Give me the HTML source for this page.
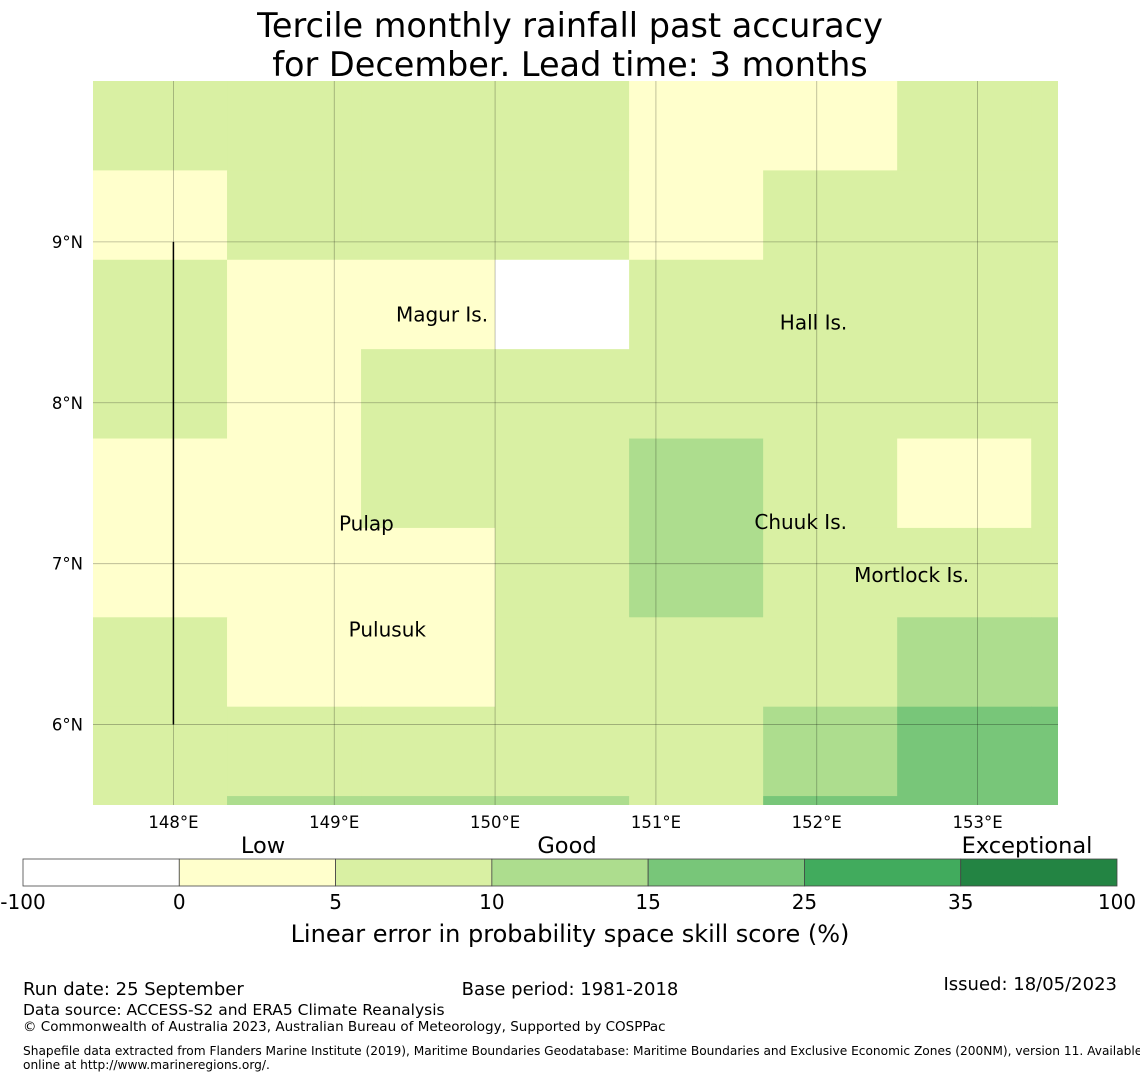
<!DOCTYPE html>
<html><head><meta charset="utf-8">
<style>
body{margin:0;background:#fff;font-family:"Liberation Sans",sans-serif;}
svg text{font-family:"DejaVu Sans","Liberation Sans",sans-serif;}
</style></head>
<body>
<svg id="chart" width="1140" height="1080" viewBox="0 0 1140 1080" xmlns="http://www.w3.org/2000/svg">
<g>
<text x="570" y="37" font-size="33.5" text-anchor="middle">Tercile monthly rainfall past accuracy</text>
<text x="570" y="76" font-size="33.5" text-anchor="middle">for December. Lead time: 3 months</text>
</g>
<g id="map"></g>
<g id="cbar"></g>
<text x="570" y="942" font-size="24" text-anchor="middle">Linear error in probability space skill score (%)</text>
<g font-size="18">
<text x="23" y="995">Run date: 25 September</text>
<text x="570" y="995" text-anchor="middle">Base period: 1981-2018</text>
<text x="1117" y="990" text-anchor="end">Issued: 18/05/2023</text>
<text x="23" y="1015" font-size="15.5">Data source: ACCESS-S2 and ERA5 Climate Reanalysis</text>
<text x="23" y="1031" font-size="13.5">© Commonwealth of Australia 2023, Australian Bureau of Meteorology, Supported by COSPPac</text>
<text x="23" y="1055" font-size="12.2">Shapefile data extracted from Flanders Marine Institute (2019), Maritime Boundaries Geodatabase: Maritime Boundaries and Exclusive Economic Zones (200NM), version 11. Available</text>
<text x="23" y="1069" font-size="12.2">online at http://www.marineregions.org/.</text>
</g>
</svg>
<script>
// Skill score grid (rows top->bottom from 10N, cols left->right from 147.5E)
const row0=[7,7,7,7,3,3,7,7];
const row1=[3,7,7,7,3,7,7,7];
const row2=[7,3,3,-5,7,7,7,7];
const row3=[7,3,7,7,7,7,7,7];
const row4=[3,3,7,7,12,7,3,7];
const row5=[3,3,3,7,12,7,7,7];
const row6=[7,3,3,7,7,7,12,12];
const row7=[7,7,7,7,7,12,20,20];
const row8=[7,12,12,12,7,20,20,20];
const gridRows=[row0,row1,row2,row3,row4,row5,row6,row7,row8];
const lonTicks=[148,149,150,151,152,153];
const latTicks=[9,8,7,6];
const cbarBounds=[-100,0,5,10,15,25,35,100];
const cbarColors=["#ffffff","#ffffcc","#d9f0a3","#addd8e","#78c679","#41ab5d","#238443"];
const places=["Magur Is.","Hall Is.","Pulap","Chuuk Is.","Mortlock Is.","Pulusuk"];
const placeLon=[149.67,151.98,149.2,151.9,152.59,149.33];
const placeLat=[8.55,8.5,7.25,7.26,6.93,6.59];

const NS="http://www.w3.org/2000/svg";
const lon0=147.5,lon1=153.5,lat0=5.5,lat1=10.0;
const X0=93,X1=1058,Y0=81,Y1=805;
const xs=lon=>X0+(lon-lon0)/(lon1-lon0)*(X1-X0);
const ys=lat=>Y0+(lat1-lat)/(lat1-lat0)*(Y1-Y0);
const dLon=5/6,dLat=5/9;
function color(v){for(let i=0;i<cbarColors.length;i++){if(v<cbarBounds[i+1])return cbarColors[i];}return cbarColors[cbarColors.length-1];}
function mk(tag,attrs,parent){const e=document.createElementNS(NS,tag);for(const k in attrs)e.setAttribute(k,attrs[k]);parent.appendChild(e);return e;}
const map=document.getElementById('map');
const clip=mk('clipPath',{id:'mc'},map);mk('rect',{x:X0,y:Y0,width:X1-X0,height:Y1-Y0},clip);
const cells=mk('g',{'clip-path':'url(#mc)'},map);
gridRows.forEach((row,r)=>{row.forEach((v,c)=>{
  const la=lat1-r*dLat, lo=lon0+c*dLon;
  const x=xs(lo),y=ys(la),w=xs(lo+dLon)-x,h=ys(la-dLat)-y;
  const el=mk('rect',{x:x,y:y,width:w+0.5,height:h+0.5,fill:color(v)},cells);
  
  
});});
lonTicks.forEach(l=>{const x=xs(l);
  const ln=mk('line',{x1:x,y1:Y0,x2:x,y2:Y1,stroke:'#000','stroke-opacity':0.3,'stroke-width':0.8},map);
  
  const t=mk('text',{x:x,y:828,'font-size':16.5,'text-anchor':'middle'},map);t.textContent=l+'°E';
  
});
latTicks.forEach(l=>{const y=ys(l);
  const ln=mk('line',{x1:X0,y1:y,x2:X1,y2:y,stroke:'#000','stroke-opacity':0.3,'stroke-width':0.8},map);
  
  const t=mk('text',{x:83,y:y+6,'font-size':16.5,'text-anchor':'end'},map);t.textContent=l+'°N';
  
});
const b=mk('line',{x1:xs(148),y1:ys(9),x2:xs(148),y2:ys(6),stroke:'#000','stroke-width':1.5},map);

places.forEach((p,i)=>{
  const t=mk('text',{x:xs(placeLon[i]),y:ys(placeLat[i])+7,'font-size':20,'text-anchor':'middle'},map);t.textContent=p;
  
});
const cb=document.getElementById('cbar');
const CX0=23,CX1=1117,CY=859,CH=27,n=cbarColors.length,sw=(CX1-CX0)/n;
cbarColors.forEach((c,i)=>{
  const r=mk('rect',{x:CX0+i*sw,y:CY,width:sw,height:CH,fill:c,stroke:'#444','stroke-width':0.8},cb);
  
});
cbarBounds.forEach((v,i)=>{
  const t=mk('text',{x:CX0+i*sw,y:909,'font-size':20,'text-anchor':'middle'},cb);t.textContent=v;
  
});
[["Low",263],["Good",567],["Exceptional",1027]].forEach(a=>{
  const t=mk('text',{x:a[1],y:853,'font-size':22.5,'text-anchor':'middle'},cb);t.textContent=a[0];
  
});
</script>
</body></html>
